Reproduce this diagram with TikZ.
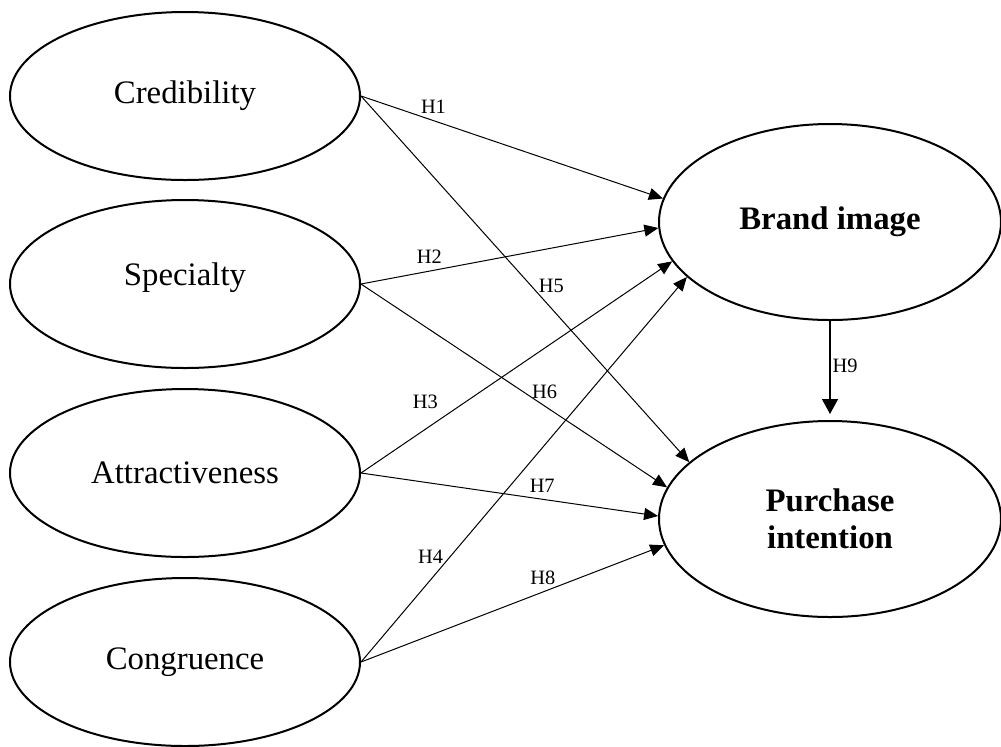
\documentclass[tikz,border=0pt]{standalone}
\usepackage{fontspec}
\setmainfont{Liberation Serif}
\usetikzlibrary{arrows.meta, shapes.geometric}

\begin{document}
\begin{tikzpicture}[x = 0.5pt, y = -0.5pt,
        var/.style = {draw, ellipse, line width = 1pt, inner sep = 0pt,
            minimum width = 175pt, minimum height = 84pt,
            font = \fontsize{16.4}{18.5}\selectfont},
        dep/.style = {var, minimum width = 171pt, minimum height = 98pt,
            align = center, font = \fontsize{16.4}{18.5}\selectfont\bfseries},
        hyp/.style = {line width = 0.5pt, -{Triangle[length = 7pt, width = 6pt]}},
        lbl/.style = {font = \fontsize{10.2}{12}\selectfont}]
                \useasboundingbox (0,0) rectangle (1001,746);

                % exogenous constructs
                \node [var] (cred) at (185, 96) {\raisebox{-4pt}{Credibility}};
                \node [var] (spec) at (185, 284) {\raisebox{10pt}{Specialty}};
                \node [var] (attr) at (185, 473) {Attractiveness};
                \node [var] (cong) at (185, 662) {Congruence};

                % endogenous constructs
                \node [dep] (brand) at (830, 222) {Brand image};
                \node [dep] (purch) at (830, 519) {Purchase\\intention};

                \draw [hyp] (cred.east) -- node [lbl, pos = 0.24, above] {H1} (brand.172);
                \draw [hyp] (spec.east) -- node [lbl, pos = 0.23, above] {H2} (brand.182);
                \draw [hyp] (attr.east) -- node [lbl, pos = 0.27, above left] {H3} (brand.194);
                \draw [hyp] (cong.east) -- node [lbl, pos = 0.274, left] {H4} (brand.201);

                \draw [hyp] (cred.east) -- node [lbl, pos = 0.52, right] {H5} (purch.158);
                \draw [hyp] (spec.east) -- node [lbl, pos = 0.6, above] {H6} (purch.169);
                \draw [hyp] (attr.east) -- node [lbl, pos = 0.61, above] {H7} (purch.179);
                \draw [hyp] (cong.east) -- node [lbl, pos = 0.6, above] {H8} (purch.189);

                \draw [hyp, line width = 0.7pt, -{Triangle[length = 7.5pt, width = 8pt]},
                    shorten >= 3pt] (brand) -- node [lbl, pos = 0.45, right, inner sep = 1pt] {H9} (purch);

            \end{tikzpicture}
\end{document}
